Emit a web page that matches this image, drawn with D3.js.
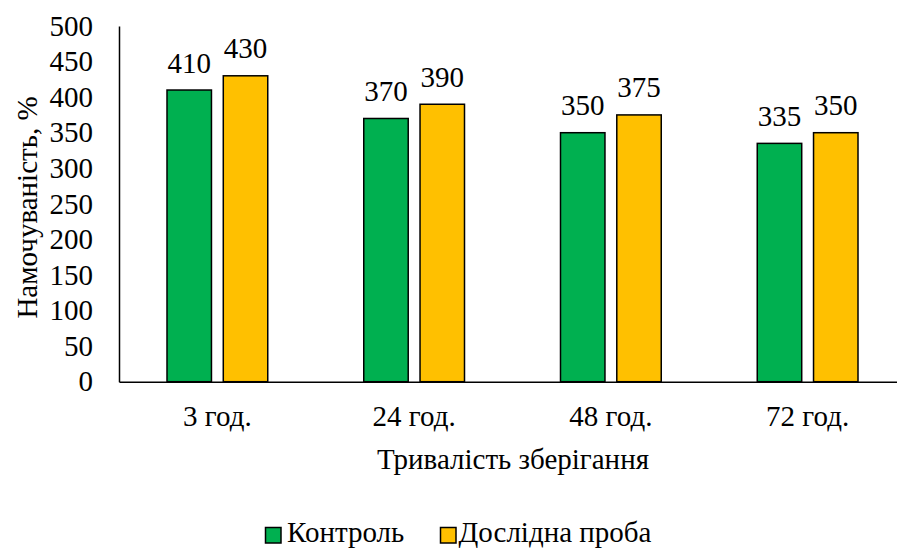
<!DOCTYPE html>
<html><head><meta charset="utf-8">
<script src="https://cdn.jsdelivr.net/npm/d3@7"></script>
</head>
<body style="margin:0">
<div id="wrap" style="font-family:'Liberation Serif';font-size:29px;width:897px;height:548px;">
<svg id="c" width="897" height="548"></svg>
</div>
<script>
const categories = ["3 год.", "24 год.", "48 год.", "72 год."];
const seriesNames = ["Контроль", "Дослідна проба"];
const control = [410, 370, 350, 335];
const experimental = [430, 390, 375, 350];
const yTicks = [0, 50, 100, 150, 200, 250, 300, 350, 400, 450, 500];
const colors = ["#00B050", "#FFC000"];
const yTitle = "Намочуваність, %";
const xTitle = "Тривалість зберігання";

const FONT = "'Liberation Serif'";
const fs = "29px";
const series = [control, experimental];
const svg = d3.select("#c");
const x = d3.scaleBand().domain(categories).range([119, 906]).paddingInner(0).paddingOuter(0);
const y = d3.scaleLinear().domain([0, 500]).range([381.7, 26]);
const inner = d3.scaleBand().domain(d3.range(series.length)).range([48, x.bandwidth() - 48]).paddingInner(0.21);
const txt = sel => sel.style("font-family", FONT).style("font-size", fs).attr("fill", "#000");

categories.forEach((c, i) => {
  series.forEach((s, j) => {
    const bx = x(c) + inner(j);
    svg.append("rect")
      .attr("x", bx).attr("y", y(s[i]))
      .attr("width", inner.bandwidth()).attr("height", y(0) - y(s[i]))
      .attr("fill", colors[j]).attr("stroke", "#000").attr("stroke-width", 1.5);
    txt(svg.append("text"))
      .attr("x", bx + inner.bandwidth() / 2).attr("y", y(s[i]) - 17.5)
      .attr("text-anchor", "middle").text(s[i]);
  });
});

const ya = svg.append("g").attr("transform", "translate(119,0)")
  .call(d3.axisLeft(y).tickValues(yTicks).tickSize(0).tickPadding(26));
ya.attr("font-family", null).attr("font-size", null);
ya.select(".domain").attr("stroke", "#000").attr("stroke-width", 1.5);
txt(ya.selectAll("text"));

const xa = svg.append("g").attr("transform", `translate(0,${y(0)})`)
  .call(d3.axisBottom(x).tickSize(0).tickPadding(23.5));
xa.attr("font-family", null).attr("font-size", null);
xa.select(".domain").attr("stroke", "#000").attr("stroke-width", 1.5);
txt(xa.selectAll("text"));

txt(svg.append("text")).attr("transform", "translate(37,207.5) rotate(-90)")
  .attr("text-anchor", "middle").text(yTitle);
txt(svg.append("text")).attr("x", 513).attr("y", 469)
  .attr("text-anchor", "middle").text(xTitle);

const lg = [[265.5, 287], [440.5, 458.5]];
seriesNames.forEach((n, j) => {
  svg.append("rect").attr("x", lg[j][0]).attr("y", 527.5).attr("width", 15.5).attr("height", 15.5)
    .attr("fill", colors[j]).attr("stroke", "#000").attr("stroke-width", 1.5);
  txt(svg.append("text")).attr("x", lg[j][1]).attr("y", 542).text(n);
});
</script></body></html>
